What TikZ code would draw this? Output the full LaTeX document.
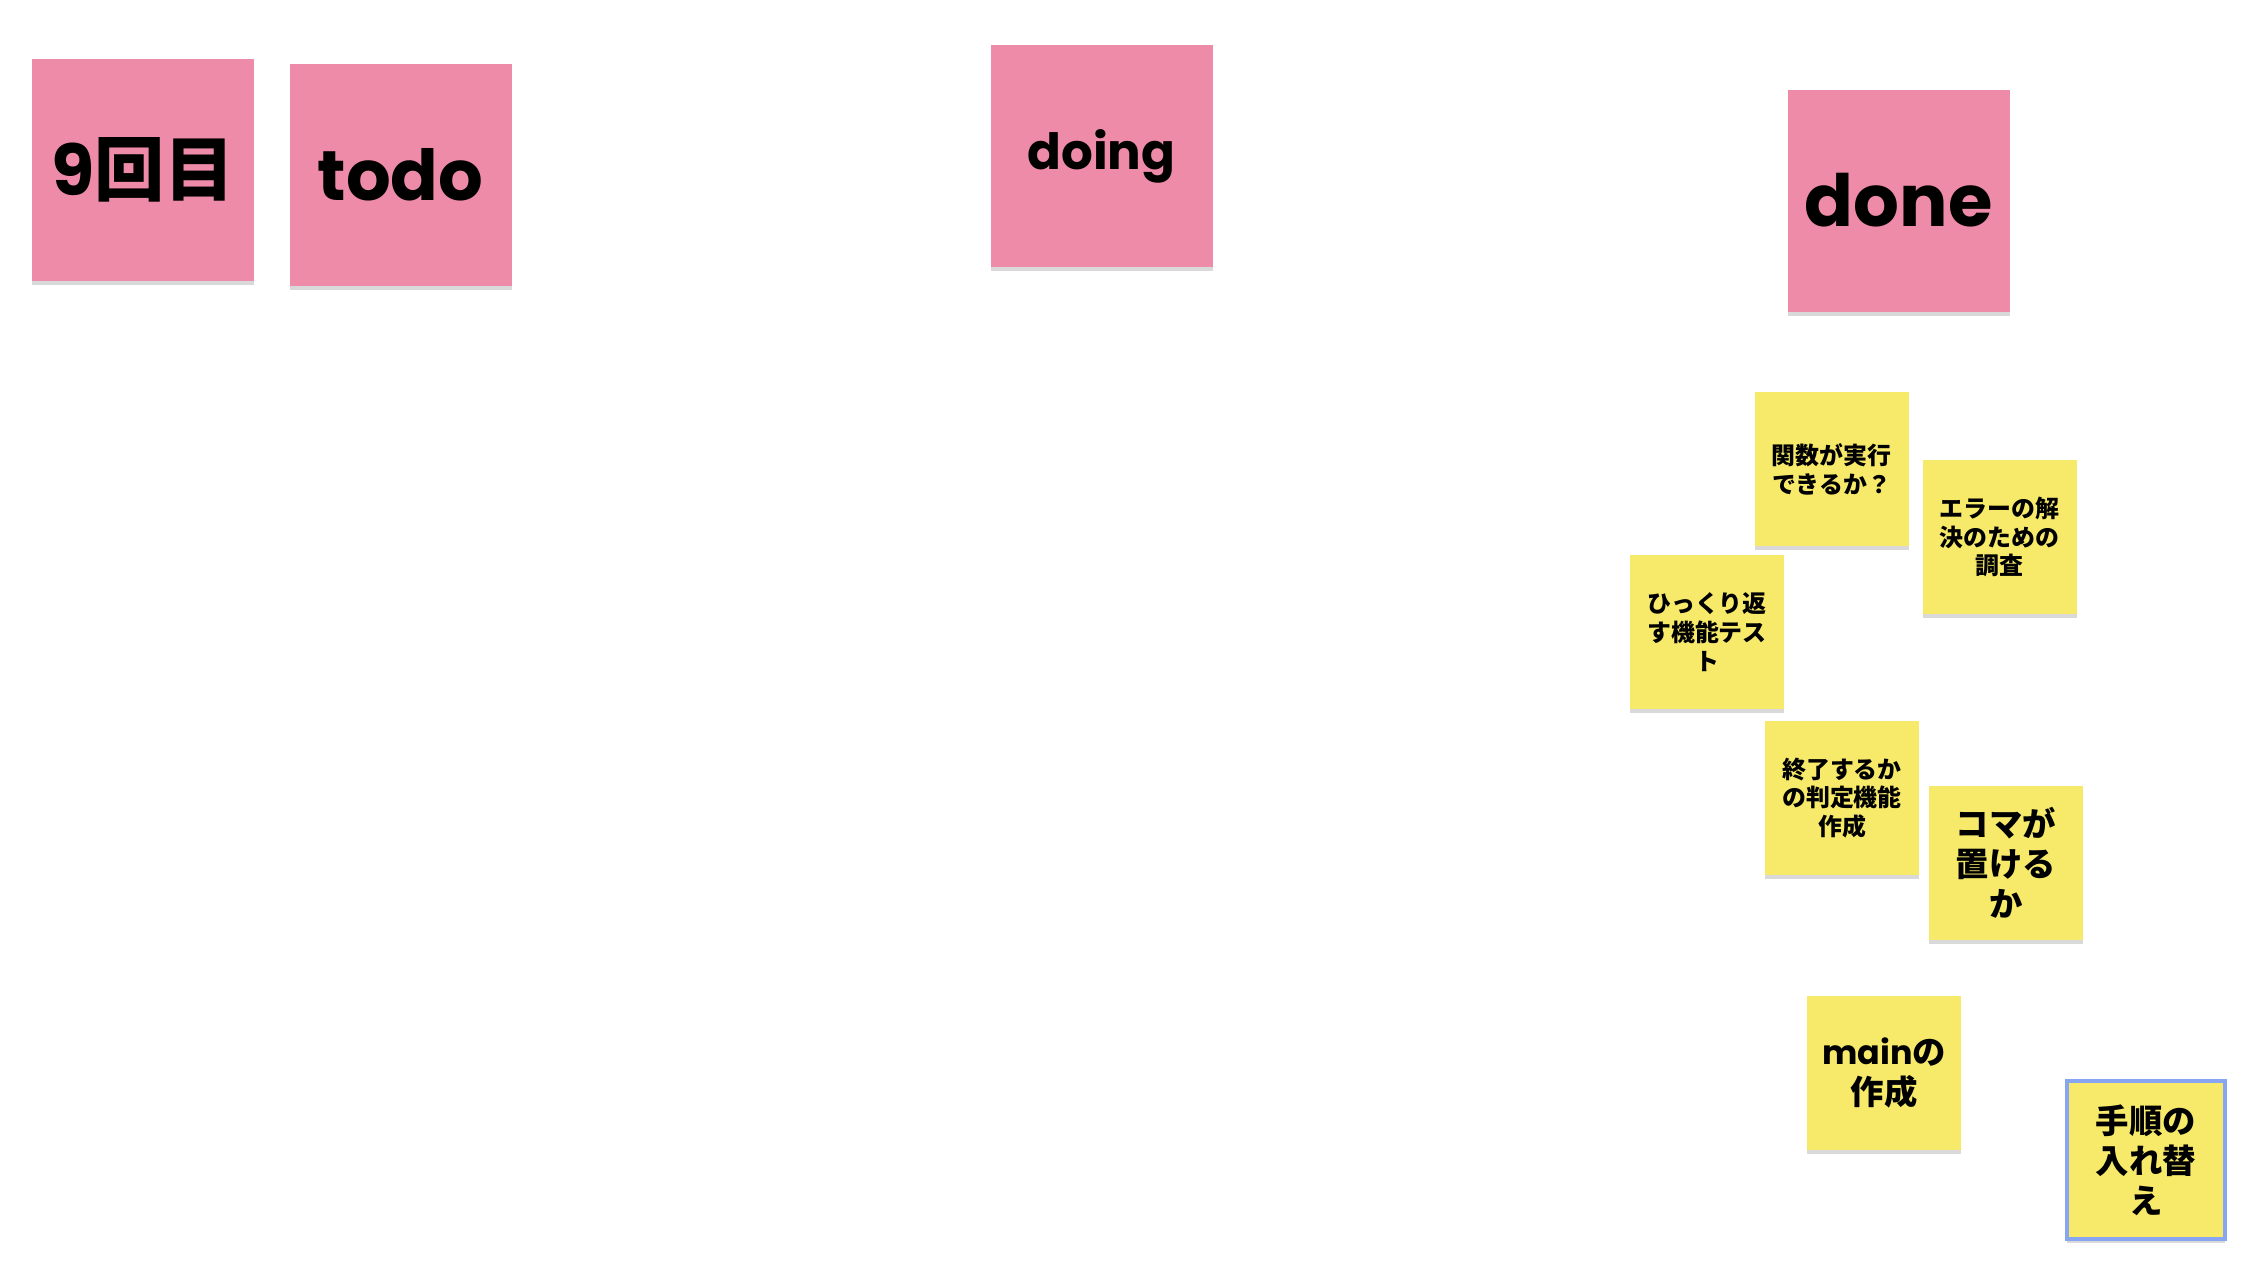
\documentclass[tikz,border=0pt]{standalone}
\usepackage{fontspec}
\usepackage{xcolor}
\usepackage{tikz}
\usetikzlibrary{shadows}

\newfontfamily\popfont{Poppins}
\newfontfamily\jpfont{Noto Sans CJK JP}

\definecolor{notepink}{RGB}{238,139,168}
\definecolor{noteyellow}{RGB}{247,234,106}
\definecolor{selblue}{RGB}{135,165,240}

\begin{document}
\begin{tikzpicture}[
      header/.style = {fill=notepink, minimum size=2.22cm, inner sep=0pt,
                       align=center, font=\bfseries,
                       drop shadow={shadow xshift=0pt, shadow yshift=-1.2pt,
                                    opacity=.25, fill=black!60}},
      memo/.style   = {fill=noteyellow, minimum size=1.54cm, inner sep=0pt,
                       align=center,
                       drop shadow={shadow xshift=0pt, shadow yshift=-1pt,
                                    opacity=.25, fill=black!60}},
      small/.style  = {font=\jpfont\bfseries\fontsize{6.8pt}{8.2pt}\selectfont},
      large/.style  = {font=\jpfont\bfseries\fontsize{9.5pt}{11.4pt}\selectfont},
    ]
    \useasboundingbox (0,0) rectangle (22.54,-12.67);

    % column headers
    \node[header] (round) at (1.43,-1.695)
      {\fontsize{20pt}{22pt}\selectfont\popfont 9\jpfont 回目};
    \node[header] (todo)  at (4.005,-1.745)
      {\fontsize{20pt}{22pt}\selectfont\popfont todo};
    \node[header] (doing) at (11.015,-1.56)
      {\fontsize{14.2pt}{16pt}\selectfont\popfont doing};
    \node[header] (done)  at (18.985,-2.005)
      {\fontsize{20.5pt}{22pt}\selectfont\popfont done};

    % done notes
    \node[memo, small] (kansu)   at (18.315,-4.69) {関数が実行\\できるか？};
    \node[memo, small] (error)   at (19.995,-5.37) {エラーの解\\決のための\\調査};
    \node[memo, small] (hikkuri) at (17.07,-6.32)  {ひっくり返\\す機能テス\\ト};
    \node[memo, small] (shuryo)  at (18.42,-7.98)  {終了するか\\の判定機能\\作成};
    \node[memo, large] (koma)    at (20.06,-8.63)  {コマが\\置ける\\か};
    \node[memo, large] (mainf)   at (18.84,-10.73) {{\popfont main}の\\作成};
    \node[memo, large, minimum size=1.58cm,
          draw=selblue, line width=0.9pt] (tejun) at (21.46,-11.60)
      {手順の\\入れ替\\え};
\end{tikzpicture}
\end{document}
